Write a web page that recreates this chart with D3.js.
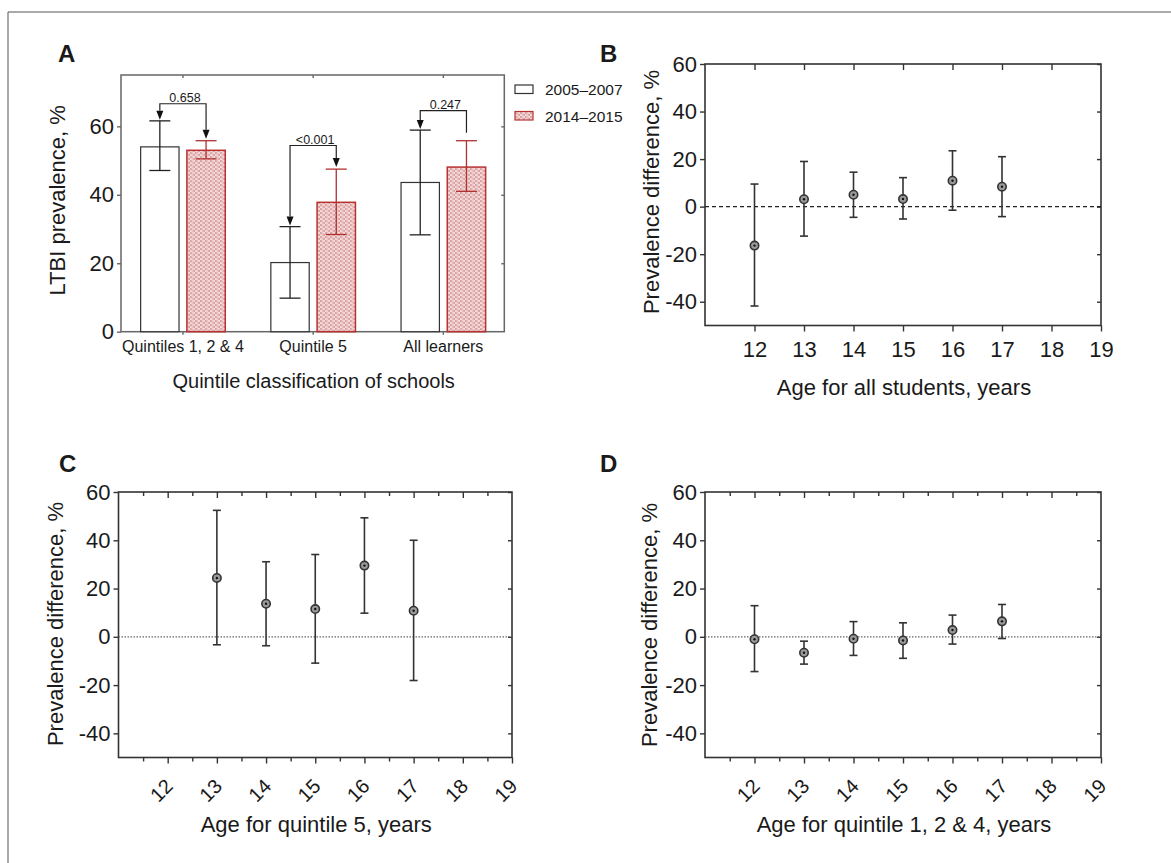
<!DOCTYPE html>
<html><head><meta charset="utf-8">
<script src="https://cdn.jsdelivr.net/npm/d3@7"></script>
<style>
html,body{margin:0;padding:0;background:#fff;}
text{font-family:"Liberation Sans",Arial,Helvetica,sans-serif;fill:#1a1a1a;}
</style></head>
<body><svg id="fig" width="1171" height="863"></svg>
<script>
// ---------- Panel A data ----------
const categories = ["Quintiles 1, 2 & 4", "Quintile 5", "All learners"];
const periods = ["2005–2007", "2014–2015"];
const prev2005 = [54.0, 20.2, 43.6];
const lo2005 = [47.1, 9.8, 28.3];
const hi2005 = [61.6, 30.7, 58.9];
const prev2014 = [53.0, 37.8, 48.1];
const lo2014 = [50.5, 28.4, 41.0];
const hi2014 = [55.8, 47.5, 55.8];
const pValues = ["0.658", "<0.001", "0.247"];
const bracketLevels = [66.6, 54.4, 64.6];
const arrowTo2014 = [true, true, false];
const yTicksA = [0, 20, 40, 60];

// ---------- Panels B, C, D data ----------
const agesB = [12, 13, 14, 15, 16, 17];
const diffB = [-16.4, 3.1, 5.0, 3.2, 10.9, 8.4];
const loB = [-41.8, -12.4, -4.5, -5.2, -1.5, -4.2];
const hiB = [9.5, 19.0, 14.5, 12.2, 23.5, 21.0];

const agesC = [13, 14, 15, 16, 17];
const diffC = [24.4, 13.7, 11.5, 29.5, 10.8];
const loC = [-3.3, -3.7, -10.9, 9.8, -18.1];
const hiC = [52.4, 31.1, 34.1, 49.3, 40.0];

const agesD = [12, 13, 14, 15, 16, 17];
const diffD = [-1.0, -6.6, -0.8, -1.5, 2.8, 6.4];
const loD = [-14.4, -11.3, -7.7, -8.9, -3.0, -0.7];
const hiD = [12.9, -1.8, 6.3, 5.8, 9.0, 13.4];

const ageTicks = [12, 13, 14, 15, 16, 17, 18, 19];
const ageMinor = [11.5, 12.5, 13.5, 14.5, 15.5, 16.5, 17.5, 18.5];
const diffTicks = [-40, -20, 0, 20, 40, 60];

// ---------- drawing ----------
const svg = d3.select("#fig");
const FONT = '"Liberation Sans",Arial,Helvetica,sans-serif';
const plainFmt = d => String(d);   // hyphen-minus like the original

// outer frame (top and left edges)
svg.append("line").attr("x1", 8).attr("y1", 12).attr("x2", 1171).attr("y2", 12).attr("stroke", "#555").attr("stroke-width", 1);
svg.append("line").attr("x1", 8).attr("y1", 12).attr("x2", 8).attr("y2", 863).attr("stroke", "#555").attr("stroke-width", 1);

const defs = svg.append("defs");
const pat = defs.append("pattern").attr("id", "dots").attr("width", 5).attr("height", 4).attr("patternUnits", "userSpaceOnUse");
pat.append("rect").attr("width", 5).attr("height", 4).attr("fill", "#f4dcdc");
pat.append("circle").attr("cx", 1.25).attr("cy", 1).attr("r", 0.9).attr("fill", "#fff5f5").attr("stroke", "#c36060").attr("stroke-width", 0.6);
pat.append("circle").attr("cx", 3.75).attr("cy", 3).attr("r", 0.9).attr("fill", "#fff5f5").attr("stroke", "#c36060").attr("stroke-width", 0.6);

function panelLabel(t, x, y) {
  svg.append("text").attr("x", x).attr("y", y).attr("font-size", 24).attr("font-weight", "bold").attr("fill", "#000").text(t);
}
function styleAxis(g, color, fs) {
  g.select(".domain").remove();
  g.selectAll(".tick line").attr("stroke", color).attr("stroke-width", 1.4);
  g.selectAll(".tick text").attr("font-family", FONT).attr("font-size", fs).attr("fill", "#1a1a1a");
}

// ===== Panel A =====
(function () {
  const L = 121, R = 504.3, T = 75, B = 331.7;
  const x = d3.scalePoint().domain(categories).range([L, R]).padding(0.472);
  const inner = d3.scaleBand().domain(periods).range([-41.8, 42.8]).paddingInner(0.17);
  const y = d3.scaleLinear().domain([0, 75]).range([B, T]);
  const bw = inner.bandwidth();
  const axC = "#666";

  panelLabel("A", 58, 62);

  svg.append("rect").attr("x", L).attr("y", T).attr("width", R - L).attr("height", B - T)
    .attr("fill", "none").attr("stroke", axC).attr("stroke-width", 1.5);

  // axes
  const gl = svg.append("g").attr("transform", `translate(${L},0)`).call(d3.axisLeft(y).tickValues(yTicksA).tickSize(4).tickPadding(3).tickFormat(plainFmt).tickSizeOuter(0));
  styleAxis(gl, axC, 22);
  const gr = svg.append("g").attr("transform", `translate(${R},0)`).call(d3.axisRight(y).tickValues([20, 40, 60]).tickSize(-3).tickFormat("").tickSizeOuter(0));
  styleAxis(gr, axC, 0);
  const gt = svg.append("g").attr("transform", `translate(0,${T})`).call(d3.axisTop(x).tickSize(-3).tickFormat("").tickSizeOuter(0));
  styleAxis(gt, axC, 0);
  const gb = svg.append("g").attr("transform", `translate(0,${B})`).call(d3.axisBottom(x).tickSize(3).tickPadding(4).tickSizeOuter(0));
  styleAxis(gb, axC, 16);
  gb.selectAll(".tick text").attr("dy", 0).attr("y", 20);

  // bars
  const rows = categories.map((c, i) => ({
    c, i,
    v: [prev2005[i], prev2014[i]], lo: [lo2005[i], lo2014[i]], hi: [hi2005[i], hi2014[i]]
  }));
  rows.forEach(r => {
    periods.forEach((p, k) => {
      const x0 = x(r.c) + inner(p);
      svg.append("rect").attr("x", x0).attr("y", y(r.v[k])).attr("width", bw).attr("height", y(0) - y(r.v[k]))
        .attr("fill", k === 0 ? "#fff" : "url(#dots)")
        .attr("stroke", k === 0 ? "#333" : "#b83232").attr("stroke-width", k === 0 ? 1.2 : 1.5);
    });
  });
  // error bars
  rows.forEach(r => {
    periods.forEach((p, k) => {
      const cx = x(r.c) + inner(p) + bw / 2;
      const col = k === 0 ? "#222" : "#b03030";
      const g = svg.append("g").attr("stroke", col).attr("stroke-width", 1.3);
      g.append("line").attr("x1", cx).attr("x2", cx).attr("y1", y(r.lo[k])).attr("y2", y(r.hi[k]));
      g.append("line").attr("x1", cx - 10.5).attr("x2", cx + 10.5).attr("y1", y(r.lo[k])).attr("y2", y(r.lo[k]));
      g.append("line").attr("x1", cx - 10.5).attr("x2", cx + 10.5).attr("y1", y(r.hi[k])).attr("y2", y(r.hi[k]));
    });
  });
  // significance brackets
  rows.forEach(r => {
    const i = r.i;
    const xl = x(r.c) + inner(periods[0]) + bw / 2;
    const xr = x(r.c) + inner(periods[1]) + bw / 2;
    const yl = y(bracketLevels[i]);
    const tipL = y(r.hi[0]) - 1;
    const tipR = arrowTo2014[i] ? y(r.hi[1]) - 2 : y(r.hi[1]) - 8;
    const g = svg.append("g").attr("stroke", "#222").attr("stroke-width", 1.2).attr("fill", "none");
    g.append("path").attr("d", `M${xl},${tipL - 9}V${yl}H${xr}V${arrowTo2014[i] ? tipR - 9 : tipR}`);
    g.append("path").attr("d", `M${xl - 3.5},${tipL - 9}L${xl + 3.5},${tipL - 9}L${xl},${tipL}Z`).attr("fill", "#111").attr("stroke", "none");
    if (arrowTo2014[i]) g.append("path").attr("d", `M${xr - 3.5},${tipR - 9}L${xr + 3.5},${tipR - 9}L${xr},${tipR}Z`).attr("fill", "#111").attr("stroke", "none");
    svg.append("text").attr("x", (xl + xr) / 2 + 2).attr("y", yl - 1.5).attr("text-anchor", "middle").attr("font-size", 12.5).text(pValues[i]);
  });

  // axis titles
  svg.append("text").attr("transform", `translate(65,${(T + B) / 2 - 3}) rotate(-90)`).attr("text-anchor", "middle").attr("font-size", 22).text("LTBI prevalence, %");
  svg.append("text").attr("x", (L + R) / 2 + 1).attr("y", 388).attr("text-anchor", "middle").attr("font-size", 20).text("Quintile classification of schools");

  // legend
  const lg = svg.append("g");
  periods.forEach((p, k) => {
    const yy = 85 + k * 26.5;
    lg.append("rect").attr("x", 515).attr("y", yy).attr("width", 18).attr("height", 8.5)
      .attr("fill", k === 0 ? "#fff" : "url(#dots)").attr("stroke", k === 0 ? "#333" : "#b83232").attr("stroke-width", 1.2);
    lg.append("text").attr("x", 545).attr("y", yy + 10).attr("font-size", 15.5).text(p);
  });
})();

// ===== Scatter panels =====
function scatterPanel(o) {
  const x = d3.scaleLinear().domain([11, 19]).range([o.L, o.R]);
  const y = d3.scaleLinear().domain([-50, 60]).range([o.B, o.T]);
  const axC = "#333";
  panelLabel(o.label, o.lx, o.ly);

  svg.append("rect").attr("x", o.L).attr("y", o.T).attr("width", o.R - o.L).attr("height", o.B - o.T)
    .attr("fill", "none").attr("stroke", axC).attr("stroke-width", 1.6);

  const gl = svg.append("g").attr("transform", `translate(${o.L},0)`).call(d3.axisLeft(y).tickValues(diffTicks).tickSize(5).tickPadding(3).tickFormat(plainFmt).tickSizeOuter(0));
  styleAxis(gl, axC, 22);
  const gr = svg.append("g").attr("transform", `translate(${o.R},0)`).call(d3.axisRight(y).tickValues(diffTicks).tickSize(-4).tickFormat("").tickSizeOuter(0));
  styleAxis(gr, axC, 0);
  const gt = svg.append("g").attr("transform", `translate(0,${o.T})`).call(d3.axisTop(x).tickValues(ageTicks.slice(0, 7)).tickSize(-6).tickFormat("").tickSizeOuter(0));
  styleAxis(gt, axC, 0);
  const gb = svg.append("g").attr("transform", `translate(0,${o.B})`).call(d3.axisBottom(x).tickValues(ageTicks).tickSize(6).tickFormat(plainFmt).tickSizeOuter(0));
  styleAxis(gb, axC, o.rotate ? 20 : 22);
  if (o.minor) {
    const gtm = svg.append("g").attr("transform", `translate(0,${o.T})`).call(d3.axisTop(x).tickValues(ageMinor).tickSize(-4).tickFormat("").tickSizeOuter(0));
    styleAxis(gtm, axC, 0);
    const gbm = svg.append("g").attr("transform", `translate(0,${o.B})`).call(d3.axisBottom(x).tickValues(ageMinor).tickSize(4).tickFormat("").tickSizeOuter(0));
    styleAxis(gbm, axC, 0);
  }
  if (o.rotate) {
    gb.selectAll(".tick text").attr("text-anchor", "end").attr("dy", 0).attr("x", 6).attr("y", 30)
      .attr("transform", "rotate(-45,6,30)");
  } else {
    gb.selectAll(".tick text").attr("dy", 0).attr("y", 31);
  }

  // zero reference line
  svg.append("line").attr("x1", o.L).attr("x2", o.R).attr("y1", y(0)).attr("y2", y(0))
    .attr("stroke", o.dashed ? "#222" : "#666").attr("stroke-width", o.dashed ? 1.4 : 1.2)
    .attr("stroke-dasharray", o.dashed ? "4,3" : "1.5,1.5");

  // error bars + markers
  o.ages.forEach((a, i) => {
    const cx = x(a);
    const g = svg.append("g").attr("stroke", "#333").attr("stroke-width", 1.6);
    g.append("line").attr("x1", cx).attr("x2", cx).attr("y1", y(o.lo[i])).attr("y2", y(o.hi[i]));
    g.append("line").attr("x1", cx - 4).attr("x2", cx + 4).attr("y1", y(o.lo[i])).attr("y2", y(o.lo[i]));
    g.append("line").attr("x1", cx - 4).attr("x2", cx + 4).attr("y1", y(o.hi[i])).attr("y2", y(o.hi[i]));
    svg.append("circle").attr("cx", cx).attr("cy", y(o.v[i])).attr("r", 4.2).attr("fill", "#9a9a9a").attr("stroke", "#333").attr("stroke-width", 1.6);
    svg.append("circle").attr("cx", cx).attr("cy", y(o.v[i])).attr("r", 1.2).attr("fill", "#111");
  });

  svg.append("text").attr("transform", `translate(${o.ylx},${o.yly}) rotate(-90)`).attr("text-anchor", "middle").attr("font-size", 22).text("Prevalence difference, %");
  svg.append("text").attr("x", (o.L + o.R) / 2 + 1).attr("y", o.xly).attr("text-anchor", "middle").attr("font-size", 22).text(o.xlabel);
}

scatterPanel({ label: "B", lx: 600, ly: 62, L: 705, R: 1101, T: 64, B: 325.5,
  ages: agesB, v: diffB, lo: loB, hi: hiB, dashed: true, minor: false, rotate: false,
  ylx: 659, yly: 192, xly: 395, xlabel: "Age for all students, years" });
scatterPanel({ label: "C", lx: 59, ly: 472, L: 118.5, R: 512, T: 492, B: 757.5,
  ages: agesC, v: diffC, lo: loC, hi: hiC, dashed: false, minor: true, rotate: true,
  ylx: 63, yly: 624, xly: 832, xlabel: "Age for quintile 5, years" });
scatterPanel({ label: "D", lx: 600, ly: 472, L: 705, R: 1101, T: 492, B: 757.5,
  ages: agesD, v: diffD, lo: loD, hi: hiD, dashed: false, minor: true, rotate: true,
  ylx: 657, yly: 625, xly: 832, xlabel: "Age for quintile 1, 2 & 4, years" });
</script>
</body></html>
